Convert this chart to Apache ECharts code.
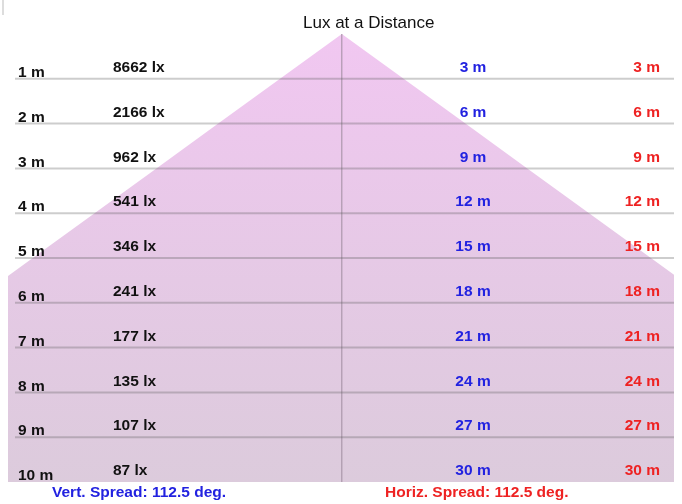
<!DOCTYPE html>
<html>
<head>
<meta charset="utf-8">
<script src="https://cdn.jsdelivr.net/npm/echarts@6/dist/echarts.min.js"></script>
<style>
html,body{margin:0;padding:0;background:#fff;}
#luxChart{width:682px;height:504px;}
</style>
</head>
<body>
<div id="luxChart"></div>
<script>
// 数据
var distances = [1, 2, 3, 4, 5, 6, 7, 8, 9, 10];
var luxValues = [8662, 2166, 962, 541, 346, 241, 177, 135, 107, 87];
var vertDiameters = [3, 6, 9, 12, 15, 18, 21, 24, 27, 30];
var horizDiameters = [3, 6, 9, 12, 15, 18, 21, 24, 27, 30];
var vertSpread = 112.5;
var horizSpread = 112.5;

var FONT = 'bold 15.5px "Liberation Sans", Arial, sans-serif';

/**
 * 光束区域（多边形）
 */
function renderBeam(params, api) {
	var pts = [api.coord([0, 0])];
	for (var i = 0; i < distances.length; i++) {
		pts.push(api.coord([horizDiameters[i] / 2, distances[i]]));
	}
	for (var j = distances.length - 1; j >= 0; j--) {
		pts.push(api.coord([-horizDiameters[j] / 2, distances[j]]));
	}
	var top = api.coord([0, 0]);
	var bottom = api.coord([0, distances[distances.length - 1]]);
	return {
		type: 'group',
		children: [{
			type: 'polygon',
			shape: { points: pts },
			style: {
				fill: new echarts.graphic.LinearGradient(0, 0, 0, 1, [
					{ offset: 0, color: '#f1c7f1' },
					{ offset: 0.5, color: '#e6c9e6' },
					{ offset: 1, color: '#dccbdc' }
				])
			}
		}, {
			type: 'line',
			shape: { x1: top[0], y1: top[1], x2: bottom[0], y2: bottom[1] },
			style: { stroke: '#a08ea0', lineWidth: 1 }
		}]
	};
}

/**
 * 每行的分隔线和文字
 */
function renderRow(params, api) {
	var i = params.dataIndex;
	var cs = params.coordSys;
	var y = api.coord([0, distances[i]])[1];
	var children = [];
	if (i < distances.length - 1) {
		children.push({
			type: 'line',
			shape: { x1: cs.x + 7, y1: y, x2: cs.x + cs.width, y2: y },
			style: { stroke: 'rgba(90,90,90,0.3)', lineWidth: 2 }
		});
	}
	children.push({
		type: 'text',
		style: { text: distances[i] + ' m', x: cs.x + 10, y: y - 6, font: FONT, fill: '#111', align: 'left', verticalAlign: 'middle' }
	});
	children.push({
		type: 'text',
		style: { text: luxValues[i] + ' lx', x: cs.x + 105, y: y - 11, font: FONT, fill: '#111', align: 'left', verticalAlign: 'middle' }
	});
	children.push({
		type: 'text',
		style: { text: vertDiameters[i] + ' m', x: cs.x + 465, y: y - 11, font: FONT, fill: '#2222e0', align: 'center', verticalAlign: 'middle' }
	});
	children.push({
		type: 'text',
		style: { text: horizDiameters[i] + ' m', x: cs.x + 652, y: y - 11, font: FONT, fill: '#ee2222', align: 'right', verticalAlign: 'middle' }
	});
	return { type: 'group', children: children };
}

var myChart = echarts.init(document.getElementById('luxChart'));
myChart.setOption({
	animation: false,
	title: {
		text: 'Lux at a Distance',
		left: 298,
		top: 10,
		textStyle: { fontFamily: '"Liberation Sans", Arial, sans-serif', fontSize: 17, fontWeight: 'normal', color: '#111' }
	},
	grid: { left: 8, right: 8, top: 34, bottom: 22 },
	xAxis: { type: 'value', min: -8.1, max: 8.06, show: false },
	yAxis: { type: 'value', min: 0, max: 10, inverse: true, show: false },
	series: [{
		type: 'custom',
		clip: true,
		renderItem: renderBeam,
		data: [0],
		silent: true
	}, {
		type: 'custom',
		clip: false,
		renderItem: renderRow,
		data: distances,
		silent: true
	}],
	graphic: [{
		type: 'text',
		left: 52,
		top: 485,
		style: { text: 'Vert. Spread: ' + vertSpread + ' deg.', font: FONT, fill: '#2222e0' }
	}, {
		type: 'text',
		left: 385,
		top: 485,
		style: { text: 'Horiz. Spread: ' + horizSpread + ' deg.', font: FONT, fill: '#ee2222' }
	}, {
		type: 'line',
		shape: { x1: 3, y1: 0, x2: 3, y2: 15 },
		style: { stroke: '#bbb', lineWidth: 1 }
	}]
});
</script>
</body>
</html>
